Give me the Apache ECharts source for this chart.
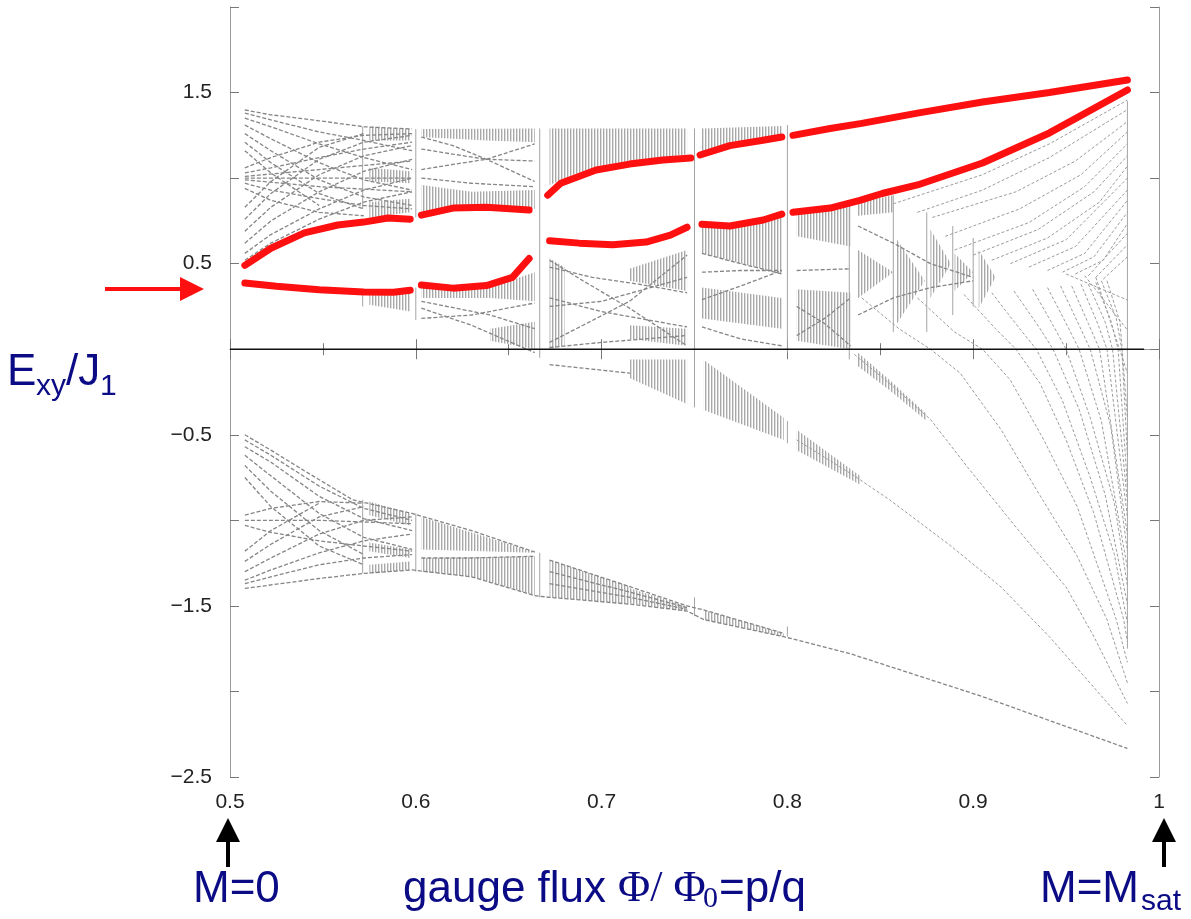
<!DOCTYPE html>
<html><head><meta charset="utf-8">
<script src="https://cdn.jsdelivr.net/npm/echarts@6/dist/echarts.min.js"></script>
<style>html,body{margin:0;padding:0;background:#fff}#chart{width:1191px;height:919px}</style>
</head><body><div id="chart"></div>
<script>
// axis settings
const xLabelValues = [0.5, 0.6, 0.7, 0.8, 0.9, 1];
const yLabelValues = [-2.5, -1.5, -0.5, 0.5, 1.5];
const yTickValues = [-2.5, -2, -1.5, -1, -0.5, 0, 0.5, 1, 1.5, 2];

// red branches (edge states), split at the rational fluxes
const redA1 = [[0.508,0.387],[0.525,0.368],[0.548,0.347],[0.572,0.334],[0.588,0.333],[0.597,0.345]];
const redA2 = [[0.603,0.375],[0.62,0.357],[0.638,0.372],[0.652,0.42],[0.661,0.53]];
const redB1 = [[0.508,0.49],[0.522,0.59],[0.54,0.68],[0.558,0.726],[0.572,0.743],[0.585,0.767],[0.597,0.76]];
const redB2 = [[0.603,0.784],[0.62,0.825],[0.638,0.83],[0.661,0.813]];
const redC1 = [[0.671,0.90],[0.678,0.97],[0.697,1.047],[0.715,1.082],[0.733,1.106],[0.748,1.117]];
const redC2 = [[0.753,1.135],[0.769,1.19],[0.786,1.22],[0.797,1.24]];
const redC3 = [[0.803,1.25],[0.823,1.29],[0.84,1.32],[0.87,1.38],[0.905,1.445],[0.941,1.50],[0.983,1.573]];
const redD1 = [[0.672,0.634],[0.688,0.62],[0.706,0.61],[0.724,0.626],[0.737,0.667],[0.746,0.713]];
const redD2 = [[0.754,0.73],[0.769,0.72],[0.787,0.755],[0.797,0.79]];
const redD3 = [[0.803,0.80],[0.823,0.825],[0.839,0.87],[0.851,0.91],[0.87,0.96],[0.905,1.088],[0.941,1.264],[0.983,1.515]];

// gray levels near flux 1/2, upper band
const upperLeftLines = [
  [[0.508,1.398],[0.522,1.37],[0.548,1.335],[0.572,1.30],[0.598,1.287]],
  [[0.508,1.38],[0.522,1.34],[0.548,1.27],[0.572,1.22],[0.598,1.16]],
  [[0.508,1.35],[0.522,1.30],[0.548,1.20],[0.572,1.12],[0.598,1.05]],
  [[0.508,1.31],[0.522,1.23],[0.548,1.09],[0.572,0.99],[0.598,0.93]],
  [[0.508,1.26],[0.522,1.16],[0.548,0.99],[0.572,0.89],[0.598,0.84]],
  [[0.508,1.21],[0.522,1.09],[0.548,0.91],[0.572,0.82]],
  [[0.508,1.16],[0.522,1.03],[0.548,0.84]],
  [[0.508,1.03],[0.522,1.06],[0.548,1.12],[0.572,1.17],[0.598,1.21]],
  [[0.508,1.06],[0.522,1.12],[0.548,1.21],[0.572,1.25],[0.598,1.26]],
  [[0.508,1.01],[0.548,1.05],[0.598,1.10]],
  [[0.508,0.99],[0.548,0.95],[0.598,0.92]],
  [[0.508,0.97],[0.522,0.93],[0.548,0.88],[0.572,0.84],[0.598,0.82]],
  [[0.508,0.94],[0.522,0.87],[0.548,0.80],[0.572,0.78]],
  [[0.508,1.0],[0.548,1.0],[0.598,1.0]],
  [[0.508,0.52],[0.522,0.62],[0.548,0.76],[0.572,0.86],[0.598,0.92]],
  [[0.508,0.56],[0.522,0.67],[0.548,0.82],[0.572,0.93],[0.598,1.0]],
  [[0.508,0.62],[0.522,0.75],[0.548,0.92],[0.572,1.04],[0.598,1.11]],
  [[0.508,0.69],[0.522,0.83],[0.548,1.02],[0.572,1.13],[0.598,1.19]],
  [[0.508,0.76],[0.522,0.91],[0.548,1.11],[0.572,1.21],[0.598,1.25]],
  [[0.508,0.83],[0.522,0.98],[0.548,1.18],[0.572,1.26]]
];
// gray levels near flux 1/2, lower band
const lowerLeftLines = [
  [[0.508,-0.50],[0.522,-0.59],[0.54,-0.71],[0.566,-0.88],[0.598,-0.96],[0.63,-1.06],[0.664,-1.185]],
  [[0.508,-1.398],[0.548,-1.34],[0.572,-1.31],[0.598,-1.29],[0.63,-1.33],[0.664,-1.44],[0.672,-1.45],[0.7153,-1.49],[0.746,-1.53],[0.755,-1.58],[0.798,-1.68],[0.834,-1.78],[0.905,-2.03],[0.983,-2.333]],
  [[0.508,-0.53],[0.522,-0.62],[0.548,-0.80],[0.572,-0.93],[0.598,-1.0]],
  [[0.508,-0.57],[0.522,-0.66],[0.548,-0.86],[0.572,-0.99],[0.598,-1.06]],
  [[0.508,-0.62],[0.522,-0.74],[0.548,-0.96],[0.572,-1.10],[0.598,-1.17]],
  [[0.508,-0.68],[0.522,-0.83],[0.548,-1.06],[0.572,-1.20]],
  [[0.508,-0.75],[0.522,-0.92],[0.548,-1.15],[0.572,-1.26]],
  [[0.508,-0.97],[0.522,-0.93],[0.548,-0.89],[0.572,-0.90]],
  [[0.508,-1.03],[0.522,-1.07],[0.548,-1.12],[0.572,-1.15],[0.598,-1.18]],
  [[0.508,-1.0],[0.548,-1.0],[0.598,-1.02]],
  [[0.508,-1.37],[0.522,-1.33],[0.548,-1.26],[0.572,-1.22],[0.598,-1.20]],
  [[0.508,-1.35],[0.522,-1.29],[0.548,-1.19],[0.572,-1.12],[0.598,-1.08]],
  [[0.508,-1.30],[0.522,-1.22],[0.548,-1.08],[0.572,-1.0],[0.598,-0.98]],
  [[0.508,-1.24],[0.522,-1.14],[0.548,-0.98],[0.572,-0.92]],
  [[0.508,-1.18],[0.522,-1.06],[0.548,-0.90]],
  [[0.603,-1.22],[0.63,-1.22],[0.664,-1.21]],
  [[0.672,-1.232],[0.7153,-1.388],[0.746,-1.50],[0.755,-1.524],[0.798,-1.66]],
  [[0.672,-1.30],[0.7153,-1.42],[0.746,-1.51]],
  [[0.672,-1.37],[0.7153,-1.45],[0.746,-1.52]]
];
// gray levels between 0.6 and 5/6
const middleLines = [
  [[0.603,1.24],[0.62,1.19],[0.638,1.11],[0.664,0.98]],
  [[0.603,1.17],[0.62,1.14],[0.638,1.11],[0.664,1.10]],
  [[0.603,1.05],[0.62,1.08],[0.638,1.11],[0.664,1.20]],
  [[0.603,1.0],[0.63,0.97],[0.664,0.95]],
  [[0.603,0.24],[0.63,0.14],[0.664,-0.02]],
  [[0.603,0.18],[0.63,0.20],[0.664,0.27]],
  [[0.603,0.28],[0.64,0.20],[0.664,0.12]],
  [[0.672,0.52],[0.69,0.40],[0.715,0.24],[0.746,0.02]],
  [[0.672,0.48],[0.695,0.42],[0.72,0.38],[0.746,0.33]],
  [[0.672,0.04],[0.69,0.14],[0.715,0.28],[0.746,0.55]],
  [[0.672,0.01],[0.70,0.04],[0.746,0.08]],
  [[0.672,0.25],[0.70,0.28],[0.746,0.42]],
  [[0.672,0.30],[0.70,0.22],[0.746,0.13]],
  [[0.672,-0.09],[0.7153,-0.14]],
  [[0.754,0.56],[0.775,0.50],[0.797,0.44]],
  [[0.754,0.45],[0.775,0.46],[0.797,0.46]],
  [[0.754,0.29],[0.775,0.37],[0.797,0.46]],
  [[0.754,0.13],[0.775,0.06],[0.797,0.02]],
  [[0.805,0.46],[0.834,0.47]],
  [[0.805,0.25],[0.82,0.15],[0.834,0.02]],
  [[0.805,0.08],[0.82,0.18],[0.834,0.30]],
  [[0.838,0.72],[0.857,0.62],[0.877,0.50],[0.90,0.42]],
  [[0.838,0.20],[0.857,0.30],[0.877,0.36],[0.90,0.40]]
];
// gray levels fanning towards flux 1, ending at the saturated side
const risingLines = [
  [[0.857,0.85],[0.905,1.02],[0.941,1.20],[0.983,1.456]],
  [[0.870,0.80],[0.905,0.93],[0.941,1.12],[0.983,1.40]],
  [[0.878,0.77],[0.923,0.92],[0.955,1.10],[0.983,1.33]],
  [[0.885,0.66],[0.925,0.82],[0.958,1.02],[0.983,1.27]],
  [[0.890,0.58],[0.930,0.74],[0.960,0.95],[0.983,1.20]],
  [[0.900,0.55],[0.935,0.70],[0.965,0.92],[0.983,1.13]],
  [[0.910,0.52],[0.940,0.65],[0.968,0.86],[0.983,1.07]],
  [[0.920,0.50],[0.950,0.64],[0.983,1.0]],
  [[0.930,0.48],[0.955,0.60],[0.983,0.93]],
  [[0.940,0.46],[0.960,0.56],[0.983,0.87]],
  [[0.948,0.45],[0.965,0.54],[0.983,0.80]],
  [[0.955,0.44],[0.970,0.52],[0.983,0.735]],
  [[0.962,0.43],[0.983,0.677]],
  [[0.966,0.42],[0.983,0.61]],
  [[0.970,0.41],[0.983,0.54]]
];
const fallingLines = [
  [[0.805,-0.53],[0.836,-0.74],[0.855,-0.88],[0.888,-1.15],[0.915,-1.39],[0.941,-1.68],[0.983,-2.20]],
  [[0.836,-0.03],[0.855,-0.20],[0.877,-0.41],[0.897,-0.69],[0.923,-1.04],[0.950,-1.39],[0.965,-1.68],[0.983,-2.07]],
  [[0.840,0.30],[0.860,0.12],[0.877,0.0],[0.893,-0.14],[0.915,-0.47],[0.934,-0.82],[0.956,-1.21],[0.972,-1.58],[0.983,-1.95]],
  [[0.870,0.30],[0.890,0.10],[0.905,0.0],[0.920,-0.18],[0.938,-0.53],[0.956,-0.92],[0.977,-1.58],[0.983,-1.83]],
  [[0.895,0.32],[0.912,0.12],[0.923,0.0],[0.936,-0.20],[0.950,-0.53],[0.965,-0.96],[0.981,-1.58],[0.983,-1.71]],
  [[0.910,0.33],[0.925,0.12],[0.934,0.0],[0.948,-0.30],[0.963,-0.75],[0.976,-1.20],[0.983,-1.60]],
  [[0.922,0.34],[0.936,0.12],[0.943,0.0],[0.957,-0.35],[0.971,-0.85],[0.983,-1.49]],
  [[0.932,0.35],[0.944,0.12],[0.950,0.0],[0.963,-0.40],[0.976,-0.90],[0.983,-1.38]],
  [[0.940,0.36],[0.951,0.13],[0.957,0.0],[0.969,-0.42],[0.983,-1.28]],
  [[0.947,0.37],[0.957,0.14],[0.963,0.0],[0.974,-0.45],[0.983,-1.18]],
  [[0.953,0.37],[0.962,0.15],[0.968,0.0],[0.983,-1.08]],
  [[0.958,0.38],[0.967,0.15],[0.972,0.0],[0.983,-0.98]],
  [[0.962,0.38],[0.971,0.16],[0.975,0.0],[0.983,-0.89]],
  [[0.966,0.39],[0.974,0.17],[0.978,0.0],[0.983,-0.80]],
  [[0.969,0.40],[0.977,0.18],[0.980,0.0],[0.983,-0.62]],
  [[0.972,0.40],[0.979,0.16],[0.983,-0.40]],
  [[0.966,0.42],[0.983,-0.14]],
  [[0.960,0.43],[0.983,0.112]],
  [[0.950,0.44],[0.983,0.287]]
];

// densely hatched sub-band outlines
const hatchRegions = [
  [[0.575,1.30],[0.597,1.287],[0.597,1.22],[0.575,1.22]],
  [[0.575,1.06],[0.597,1.04],[0.597,0.97],[0.575,0.98]],
  [[0.575,0.86],[0.597,0.88],[0.597,0.80],[0.575,0.77]],
  [[0.575,0.32],[0.597,0.33],[0.597,0.22],[0.575,0.26]],
  [[0.603,1.287],[0.664,1.29],[0.664,1.21],[0.638,1.22],[0.603,1.24]],
  [[0.603,0.96],[0.63,0.92],[0.664,0.93],[0.664,0.82],[0.638,0.84],[0.603,0.80]],
  [[0.603,0.36],[0.62,0.35],[0.64,0.36],[0.664,0.45],[0.664,0.28],[0.64,0.30],[0.603,0.30]],
  [[0.64,0.12],[0.664,0.16],[0.664,0.0],[0.64,0.05]],
  [[0.672,1.29],[0.746,1.29],[0.746,1.14],[0.733,1.12],[0.715,1.10],[0.697,1.07],[0.68,1.0],[0.672,0.96]],
  [[0.672,0.53],[0.68,0.48],[0.68,0.02],[0.672,0.0]],
  [[0.715,0.47],[0.746,0.58],[0.746,0.34],[0.715,0.40]],
  [[0.715,0.14],[0.746,0.12],[0.746,0.02],[0.715,0.06]],
  [[0.7153,-0.06],[0.746,-0.06],[0.746,-0.32],[0.7153,-0.17]],
  [[0.754,1.29],[0.797,1.305],[0.797,1.245],[0.786,1.225],[0.769,1.195],[0.754,1.14]],
  [[0.754,0.72],[0.769,0.71],[0.787,0.745],[0.797,0.78],[0.797,0.44],[0.754,0.56]],
  [[0.754,0.36],[0.797,0.30],[0.797,0.12],[0.754,0.18]],
  [[0.755,-0.063],[0.798,-0.40],[0.798,-0.53],[0.755,-0.355]],
  [[0.805,0.79],[0.823,0.815],[0.834,0.84],[0.834,0.60],[0.805,0.66]],
  [[0.805,0.35],[0.834,0.33],[0.834,0.0],[0.805,0.05]],
  [[0.805,-0.47],[0.839,-0.74],[0.839,-0.79],[0.805,-0.59]],
  [[0.838,0.86],[0.857,0.90],[0.857,0.80],[0.838,0.78]],
  [[0.838,0.58],[0.857,0.45],[0.838,0.30]],
  [[0.859,0.64],[0.874,0.40],[0.859,0.15]],
  [[0.877,0.70],[0.888,0.50],[0.877,0.30]],
  [[0.890,0.56],[0.900,0.45],[0.890,0.34]],
  [[0.903,0.58],[0.912,0.42],[0.903,0.24]],
  [[0.838,-0.02],[0.855,-0.18],[0.875,-0.38],[0.875,-0.42],[0.855,-0.24],[0.838,-0.10]],
  [[0.575,-0.89],[0.597,-0.96],[0.597,-1.03],[0.575,-0.97]],
  [[0.575,-1.13],[0.597,-1.17],[0.597,-1.22],[0.575,-1.18]],
  [[0.575,-1.26],[0.597,-1.24],[0.597,-1.29],[0.575,-1.31]],
  [[0.603,-0.98],[0.664,-1.185],[0.664,-1.19],[0.603,-1.17]],
  [[0.603,-1.22],[0.664,-1.21],[0.664,-1.44],[0.63,-1.33],[0.603,-1.30]],
  [[0.672,-1.232],[0.7153,-1.388],[0.7153,-1.49],[0.672,-1.45]],
  [[0.7153,-1.397],[0.746,-1.504],[0.746,-1.534],[0.7153,-1.485]],
  [[0.755,-1.524],[0.798,-1.66],[0.798,-1.68],[0.755,-1.58]]
];

// vertical level columns at rational fluxes [x, yTop, yBottom]
const levelColumns = [
  [0.5714,1.30,0.82],[0.5714,0.34,0.25],[0.5714,-0.88,-1.31],
  [0.6,1.287,0.77],[0.6,0.36,0.17],[0.6,-0.96,-1.30],
  [0.6667,1.29,-0.05],[0.6667,-1.19,-1.45],
  [0.75,1.29,-0.34],[0.75,-1.45,-1.56],
  [0.8,1.31,-0.02],[0.8,-0.42,-0.55],[0.8,-1.62,-1.68],
  [0.8333,0.86,-0.06],[0.857,0.90,0.10],[0.875,0.80,0.10],[0.889,0.72,0.20],[0.9,0.65,0.25],
  [0.983,1.45,-1.75]
];

const zeroLine = [[0.5,0],[0.992,0]];

const chart = echarts.init(document.getElementById('chart'), null, {renderer:'canvas'});

// vertical-stripe fill used for the densely packed levels
const hatchCanvas = document.createElement('canvas');
hatchCanvas.width = 3; hatchCanvas.height = 2;
const hctx = hatchCanvas.getContext('2d');
hctx.fillStyle = '#ffffff'; hctx.fillRect(0,0,3,2);
hctx.fillStyle = '#a8a8a8'; hctx.fillRect(0,0,1,2);
hctx.fillStyle = '#dedede'; hctx.fillRect(1,0,1,2);
const hatchFill = {image: hatchCanvas, repeat: 'repeat'};

const leftGray = {color:'#858585', width:1.3, type:[4,2]};
const rightGray = {color:'#9c9c9c', width:1, type:[3,2]};
function lineSeries(data, style, z) {
  return {type:'line', data:data, showSymbol:false, symbol:'none', silent:true, animation:false,
          lineStyle:style, z:z, xAxisIndex:0, yAxisIndex:0};
}
const series = [];
upperLeftLines.concat(lowerLeftLines, middleLines).forEach(l => series.push(lineSeries(l, leftGray, 2)));
risingLines.concat(fallingLines).forEach(l => series.push(lineSeries(l, rightGray, 2)));
series.push({
  type:'custom', silent:true, animation:false, z:1,
  data: hatchRegions.map((r,i)=>[r[0][0], r[0][1], i]),
  renderItem: function(params, api) {
    const pts = hatchRegions[params.dataIndex].map(p => api.coord(p));
    return {type:'polygon', shape:{points:pts}, style:{fill:hatchFill, stroke:null}};
  }
});
series.push({
  type:'custom', silent:true, animation:false, z:2,
  data: levelColumns,
  renderItem: function(params, api) {
    const a = api.coord([api.value(0), api.value(1)]);
    const b = api.coord([api.value(0), api.value(2)]);
    return {type:'line', shape:{x1:a[0],y1:a[1],x2:b[0],y2:b[1]}, style:{stroke:'#a4a4a4', lineWidth:1}};
  }
});
series.push(lineSeries(zeroLine, {color:'#111', width:1.5, type:'solid'}, 3));
const redStyle = {color:'#ff1010', width:7, type:'solid', cap:'round'};
[redA1,redA2,redB1,redB2,redC1,redC2,redC3,redD1,redD2,redD3].forEach(l => series.push(lineSeries(l, redStyle, 4)));

const axisFont = {fontFamily:'Liberation Sans, Arial, sans-serif', fontSize:21, color:'#222'};
const frameLine = {show:true, lineStyle:{color:'#9a9a9a', width:1}};
const tickStyle = {color:'#777', width:1};
function fmt(v){ return v < 0 ? '\u2212' + Math.abs(v) : String(v); }

chart.setOption({
  backgroundColor:'#fff',
  animation:false,
  grid:{left:230, right:32, top:7, bottom:142, containLabel:false},
  xAxis:[
    {type:'value', min:0.5, max:1, interval:0.1, position:'bottom',
     axisLine:frameLine, splitLine:{show:false},
     axisTick:{show:true, inside:true, length:10, lineStyle:tickStyle},
     minorTick:{show:true, splitNumber:2, length:6, lineStyle:tickStyle},
     axisLabel:Object.assign({margin:15, formatter:fmt, customValues:xLabelValues}, axisFont)},
    {type:'value', min:0.5, max:1, interval:0.1, position:'top',
     axisLine:frameLine, splitLine:{show:false},
     axisTick:{show:true, inside:true, length:10, lineStyle:tickStyle},
     minorTick:{show:true, splitNumber:2, length:6, lineStyle:tickStyle},
     axisLabel:{show:false}}
  ],
  yAxis:[
    {type:'value', min:-2.5, max:2, position:'left',
     axisLine:frameLine, splitLine:{show:false},
     axisTick:{show:true, inside:true, length:9, lineStyle:tickStyle, customValues:yTickValues},
     axisLabel:Object.assign({margin:18, formatter:fmt, customValues:yLabelValues}, axisFont)},
    {type:'value', min:-2.5, max:2, position:'right',
     axisLine:frameLine, splitLine:{show:false},
     axisTick:{show:true, inside:true, length:9, lineStyle:tickStyle, customValues:yTickValues},
     axisLabel:{show:false}}
  ],
  series:series
});

// annotations: axis titles and markers
const navy = '#0b0b86';
const sans = 'Liberation Sans, Arial, sans-serif';
const serif = 'Liberation Serif, Times New Roman, serif';
function txt(x, baseline, s, size, family, color) {
  return {type:'text', x:x, y:baseline - 0.35*size, silent:true,
    style:{text:s, fontSize:size, fontFamily:family||sans, fill:color||navy, verticalAlign:'middle', align:'left'}};
}
chart.setOption({graphic:[
  txt(7, 388, 'E', 44), txt(36, 397, 'xy', 30), txt(66, 388, '/J', 44), txt(100, 397, '1', 30),
  txt(193, 905, 'M=0', 44),
  txt(403, 905, 'gauge flux ', 44), txt(618, 905, '\u03A6/ \u03A6', 44, serif), txt(703, 910, '0', 30, serif),
  txt(719, 905, '=p/q', 44),
  txt(1040, 905, 'M=M', 44), txt(1141, 912, 'sat', 30),
  // red pointer at the left of the axis
  {type:'line', silent:true, shape:{x1:105,y1:289,x2:182,y2:289}, style:{stroke:'#ff1010', lineWidth:4}},
  {type:'polygon', silent:true, shape:{points:[[180,277],[204,289],[180,301]]}, style:{fill:'#ff1010'}},
  // black arrows marking M=0 and saturation
  {type:'line', silent:true, shape:{x1:228,y1:840,x2:228,y2:867}, style:{stroke:'#000', lineWidth:4}},
  {type:'polygon', silent:true, shape:{points:[[216,842],[228,818],[240,842]]}, style:{fill:'#000'}},
  {type:'line', silent:true, shape:{x1:1164,y1:840,x2:1164,y2:867}, style:{stroke:'#000', lineWidth:4}},
  {type:'polygon', silent:true, shape:{points:[[1152,842],[1164,818],[1176,842]]}, style:{fill:'#000'}}
]});
</script>
</body></html>
